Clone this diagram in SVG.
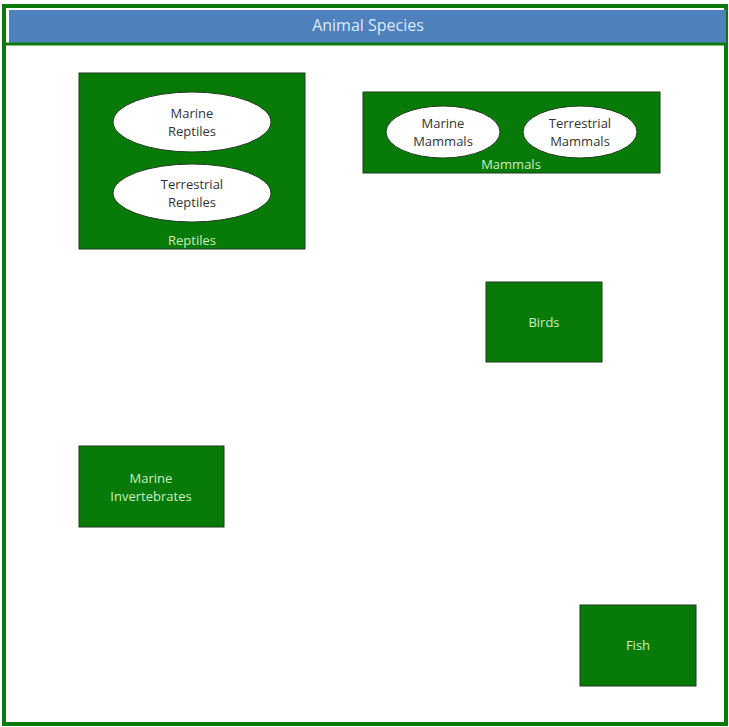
<svg xmlns="http://www.w3.org/2000/svg" width="729" height="727" viewBox="0 0 729 727">
<style>
.box{fill:#087a08;stroke:#1f3a1f;stroke-width:1}
.ell{fill:#ffffff;stroke:#1f3a1f;stroke-width:1}
.lbl{font-family:"Open Sans","Liberation Sans",sans-serif;font-size:13px;fill:#c8f0c0;text-anchor:middle}
.in{font-family:"Open Sans","Liberation Sans",sans-serif;font-size:13px;fill:#333333;text-anchor:middle}
.title{font-family:"Open Sans","Liberation Sans",sans-serif;font-size:16px;fill:#dfe9f5;text-anchor:middle}
</style>
<rect x="0" y="0" width="729" height="727" fill="#ffffff"/>
<g id="frame">
<rect x="4" y="6" width="722" height="718" fill="#ffffff" stroke="#0a7a0a" stroke-width="4"/>
<rect x="9" y="10" width="717" height="33" fill="#4f81bd"/>
<line x1="6" y1="44" x2="726" y2="44" stroke="#0a7a0a" stroke-width="3"/>
<text class="title" x="368" y="31">Animal Species</text>
</g>
<g id="reptiles">
<rect class="box" x="79" y="73" width="226" height="176"/>
<text class="lbl" x="192" y="245">Reptiles</text>
<g id="marine-reptiles">
<ellipse class="ell" cx="192" cy="122" rx="79" ry="30"/>
<text class="in" x="192" y="118">Marine</text>
<text class="in" x="192" y="136">Reptiles</text>
</g>
<g id="terrestrial-reptiles">
<ellipse class="ell" cx="192" cy="193" rx="79" ry="29"/>
<text class="in" x="192" y="189">Terrestrial</text>
<text class="in" x="192" y="207">Reptiles</text>
</g>
</g>
<g id="mammals">
<rect class="box" x="363" y="92" width="297" height="81"/>
<text class="lbl" x="511" y="169">Mammals</text>
<g id="marine-mammals">
<ellipse class="ell" cx="443" cy="132" rx="57" ry="26"/>
<text class="in" x="443" y="128">Marine</text>
<text class="in" x="443" y="146">Mammals</text>
</g>
<g id="terrestrial-mammals">
<ellipse class="ell" cx="580" cy="132" rx="57" ry="26"/>
<text class="in" x="580" y="128">Terrestrial</text>
<text class="in" x="580" y="146">Mammals</text>
</g>
</g>
<g id="birds">
<rect class="box" x="486" y="282" width="116" height="80"/>
<text class="lbl" x="544" y="327">Birds</text>
</g>
<g id="marine-invertebrates">
<rect class="box" x="79" y="446" width="145" height="81"/>
<text class="lbl" x="151" y="483">Marine</text>
<text class="lbl" x="151" y="501">Invertebrates</text>
</g>
<g id="fish">
<rect class="box" x="580" y="605" width="116" height="81"/>
<text class="lbl" x="638" y="650">Fish</text>
</g>
<g id="connectors"></g>
</svg>
